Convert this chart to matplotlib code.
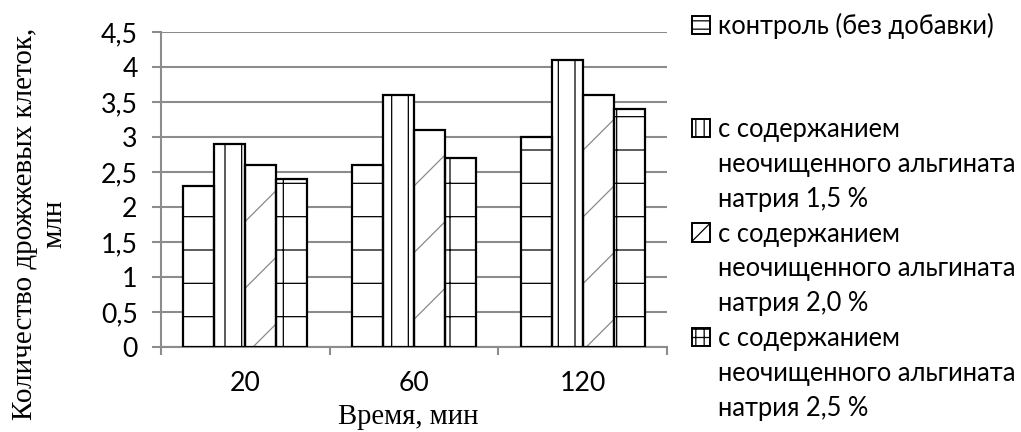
import matplotlib
matplotlib.use("Agg")
import matplotlib.pyplot as plt
from matplotlib.patches import Patch
import numpy as np

categories = ["20", "60", "120"]
series_labels = [
    "контроль (без добавки)",
    "с содержанием\nнеочищенного альгината\nнатрия 1,5 %",
    "с содержанием\nнеочищенного альгината\nнатрия 2,0 %",
    "с содержанием\nнеочищенного альгината\nнатрия 2,5 %",
]
control = [2.3, 2.6, 3.0]
alg_15 = [2.9, 3.6, 4.1]
alg_20 = [2.6, 3.1, 3.6]
alg_25 = [2.4, 2.7, 3.4]
series = [control, alg_15, alg_20, alg_25]
yticks = [0, 0.5, 1, 1.5, 2, 2.5, 3, 3.5, 4, 4.5]
ytick_labels = ["0", "0,5", "1", "1,5", "2", "2,5", "3", "3,5", "4", "4,5"]

hatches = ["-", "||", "/", "+"]
hatch_colors = ["black", "black", "#8a8a8a", "black"]
legend_hatches = ["----", "||||", "///", "++++"]

DPI = 200
plt.rcParams["hatch.linewidth"] = 0.45
sans = ["Lato", "Noto Sans", "DejaVu Sans"]
serif = ["Liberation Serif", "DejaVu Serif"]

fig = plt.figure(figsize=(1021 / DPI, 432 / DPI), dpi=DPI)
ax = fig.add_axes([161 / 1021, 1 - 347 / 432, (667 - 161) / 1021, (347 - 32) / 432])

grid_c = "#8c8c8c"
n = len(series)
w = 0.1835
x = np.arange(len(categories))
for j, vals in enumerate(series):
    ax.bar(x + (j - (n - 1) / 2) * w, vals, width=w, facecolor="white",
           edgecolor=hatch_colors[j], hatch=hatches[j], linewidth=0, zorder=3)
    ax.bar(x + (j - (n - 1) / 2) * w, vals, width=w, facecolor="none",
           edgecolor="black", linewidth=0.8, zorder=4)

ax.set_xlim(-0.5, len(categories) - 0.5)
ax.set_ylim(0, 4.5)
ax.set_yticks(yticks)
ax.set_yticklabels(ytick_labels, family=sans, fontsize=9.6)
ax.yaxis.grid(True, color=grid_c, linewidth=0.75, zorder=0)
ax.set_axisbelow(True)
ax.tick_params(axis="y", length=3.2, width=0.75, color=grid_c, pad=5.2)

ax.set_xticks(x)
ax.set_xticklabels(categories, family=sans, fontsize=9.6)
ax.tick_params(axis="x", which="major", length=0, pad=8.5)
ax.set_xticks(np.arange(len(categories) + 1) - 0.5, minor=True)
ax.tick_params(axis="x", which="minor", length=3.0, width=0.75, color=grid_c)

for s in ["top", "right"]:
    ax.spines[s].set_visible(False)
for s in ["left", "bottom"]:
    ax.spines[s].set_color(grid_c)
    ax.spines[s].set_linewidth(0.75)

fig.text(40 / 1021, 1 - 224 / 432, "Количество дрожжевых клеток,\nмлн",
         rotation=90, ha="center", va="center", family=serif, fontsize=10.5,
         linespacing=1.15, multialignment="center")
fig.text(408 / 1021, 1 - 404 / 432, "Время, мин", ha="center", va="top",
         family=serif, fontsize=10.3)

# legend: first entry at top, remaining entries below
def handle(j):
    return Patch(facecolor="white", edgecolor="black", hatch=legend_hatches[j],
                 linewidth=0.7)

blank = Patch(facecolor="none", edgecolor="none")
leg_kw = dict(frameon=False, prop={"family": sans, "size": 9.2},
              handlelength=0.72, handleheight=0.72, handletextpad=0.3,
              borderpad=0, borderaxespad=0, labelspacing=0.385)
leg1 = fig.legend([handle(0)], [series_labels[0]], loc="upper left",
                  bbox_to_anchor=(692 / 1021, 1 - 13 / 432), **leg_kw)
handles, labels = [], []
for j in range(1, n):
    for k, line in enumerate(series_labels[j].split("\n")):
        handles.append(handle(j) if k == 0 else blank)
        labels.append(line)
leg2 = fig.legend(handles, labels, loc="upper left",
                  bbox_to_anchor=(692 / 1021, 1 - 117 / 432), **leg_kw)

fig.savefig("out.png", dpi=DPI)
